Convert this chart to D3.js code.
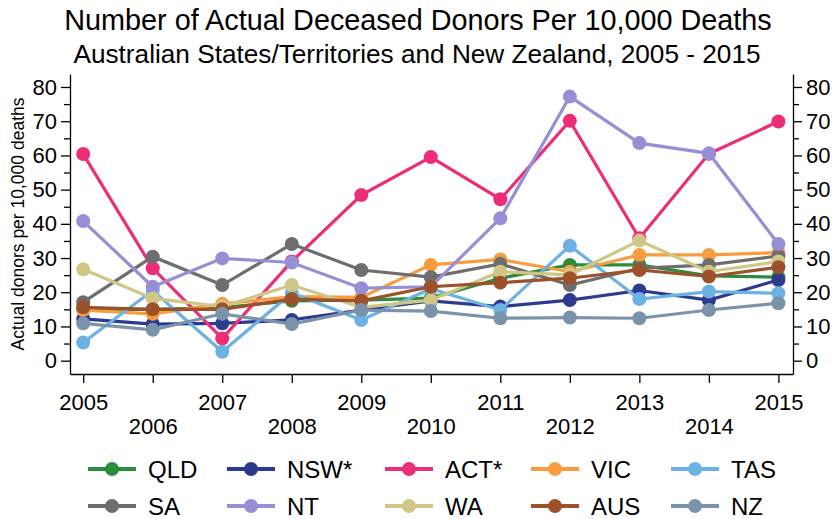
<!DOCTYPE html>
<html>
<head>
<meta charset="utf-8">
<script src="https://cdn.jsdelivr.net/npm/d3@7"></script>
<style>
  body { margin: 0; background: #fff; }
  svg { display: block; font-family: "Liberation Sans", Arial, sans-serif; }
</style>
</head>
<body>
<svg id="chart"></svg>
<script>
// data
const years = [2005, 2006, 2007, 2008, 2009, 2010, 2011, 2012, 2013, 2014, 2015];
const seriesNames = ["QLD", "NSW*", "ACT*", "VIC", "TAS", "SA", "NT", "WA", "AUS", "NZ"];
const seriesColors = ["#2a8c3c", "#2c3a8f", "#ec2e78", "#f89c40", "#6cb3e3",
                      "#6e6e6e", "#978fd5", "#d0c786", "#9c512b", "#7b93aa"];
const qld = [15.0, 15.0, 15.5, 17.5, 17.7, 18.3, 24.1, 28.0, 28.0, 24.8, 24.4];
const nsw = [12.2, 10.7, 10.9, 11.9, 14.8, 17.5, 15.8, 17.7, 20.5, 17.7, 23.6];
const act = [60.4, 27.0, 6.5, 29.0, 48.4, 59.5, 47.2, 70.1, 35.8, 60.5, 69.9];
const vic = [14.8, 13.7, 16.6, 18.7, 18.5, 28.0, 29.6, 26.0, 30.9, 30.9, 31.6];
const tas = [5.3, 20.5, 2.6, 19.8, 11.9, 21.0, 14.8, 33.6, 18.0, 20.2, 19.7];
const sa  = [17.1, 30.4, 22.1, 34.1, 26.5, 24.4, 28.3, 22.1, 27.0, 28.0, 30.6];
const nt  = [40.8, 21.6, 29.9, 28.7, 21.2, 21.6, 41.6, 77.2, 63.6, 60.6, 34.1];
const wa  = [26.7, 18.2, 15.8, 22.1, 15.6, 17.7, 26.0, 25.1, 35.1, 26.0, 29.0];
const aus = [15.6, 15.0, 15.0, 18.0, 17.5, 21.6, 22.8, 24.1, 26.5, 24.6, 27.3];
const nz  = [10.9, 9.0, 13.7, 10.7, 14.8, 14.5, 12.4, 12.6, 12.4, 14.8, 16.8];
const yTicks = [0, 10, 20, 30, 40, 50, 60, 70, 80];
const yMinorTicks = [5, 15, 25, 35, 45, 55, 65, 75];

const seriesValues = [qld, nsw, act, vic, tas, sa, nt, wa, aus, nz];
const series = seriesNames.map((name, i) => ({
    name: name,
    color: seriesColors[i],
    values: years.map((yr, j) => ({ year: yr, value: seriesValues[i][j] }))
}));

const width = 837;
const height = 519;

const svg = d3.select('#chart')
    .attr("width", width)
    .attr("height", height);

const x = d3.scaleLinear().domain([2004.81, 2015.21]).range([70, 793]);
const y = d3.scaleLinear().domain([-3.9, 83.8]).range([374, 74]);

// titles
svg.append("text")
    .attr("x", 418).attr("y", 30)
    .attr("text-anchor", "middle")
    .attr("font-size", 28.8)
    .text("Number of Actual Deceased Donors Per 10,000 Deaths");

svg.append("text")
    .attr("x", 417).attr("y", 63)
    .attr("text-anchor", "middle")
    .attr("font-size", 26.2)
    .text("Australian States/Territories and New Zealand, 2005 - 2015");

svg.append("text")
    .attr("transform", "translate(24,224) rotate(-90)")
    .attr("text-anchor", "middle")
    .attr("font-size", 17.5)
    .text("Actual donors per 10,000 deaths");

// axes
svg.append("g")
    .attr("transform", "translate(70,0)")
    .call(d3.axisLeft(y).tickValues(yTicks).tickSize(9).tickSizeOuter(0).tickPadding(4));
svg.append("g")
    .attr("transform", "translate(70,0)")
    .call(d3.axisLeft(y).tickValues(yMinorTicks).tickSize(6).tickSizeOuter(0).tickFormat(""))
    .select(".domain").remove();

svg.append("g")
    .attr("transform", "translate(793,0)")
    .call(d3.axisRight(y).tickValues(yTicks).tickSize(9).tickSizeOuter(0).tickPadding(4));
svg.append("g")
    .attr("transform", "translate(793,0)")
    .call(d3.axisRight(y).tickValues(yMinorTicks).tickSize(6).tickSizeOuter(0).tickFormat(""))
    .select(".domain").remove();

const gBottom = svg.append("g")
    .attr("transform", "translate(0,374)")
    .call(d3.axisBottom(x).tickValues(years).tickFormat(d3.format("d")).tickSize(9).tickSizeOuter(0));

// alternate year labels on two rows
gBottom.selectAll(".tick text")
    .attr("dy", null)
    .attr("y", (d, i) => i % 2 === 0 ? 36 : 60);

svg.selectAll(".domain, .tick line")
    .attr("stroke", "#000")
    .attr("stroke-width", 1.3);

svg.selectAll(".tick text")
    .attr("font-family", "Liberation Sans, Arial, sans-serif")
    .attr("font-size", 22)
    .attr("fill", "#000");

// series
const line = d3.line()
    .x(d => x(d.year))
    .y(d => y(d.value));

const gSeries = svg.append("g")
    .selectAll("g")
    .data(series)
    .join("g");

gSeries.append("path")
    .attr("d", d => line(d.values))
    .attr("fill", "none")
    .attr("stroke", d => d.color)
    .attr("stroke-width", 3.2);

gSeries.selectAll("circle")
    .data(d => d.values.map(v => ({ ...v, color: d.color })))
    .join("circle")
        .attr("cx", d => x(d.year))
        .attr("cy", d => y(d.value))
        .attr("r", 7)
        .attr("fill", d => d.color);

// legend
const legendCols = [112, 251, 409, 555, 695];
const legendRows = [469, 506];

const legendItem = svg.append("g")
    .selectAll("g")
    .data(series)
    .join("g")
        .attr("transform", (d, i) => `translate(${legendCols[i % 5]},${legendRows[Math.floor(i / 5)]})`);

legendItem.append("line")
    .attr("x1", -24).attr("x2", 24)
    .attr("stroke", d => d.color)
    .attr("stroke-width", 4);

legendItem.append("circle")
    .attr("r", 7)
    .attr("fill", d => d.color);

legendItem.append("text")
    .attr("x", 36)
    .attr("y", 9)
    .attr("font-size", 24)
    .text(d => d.name);
</script>
</body>
</html>
